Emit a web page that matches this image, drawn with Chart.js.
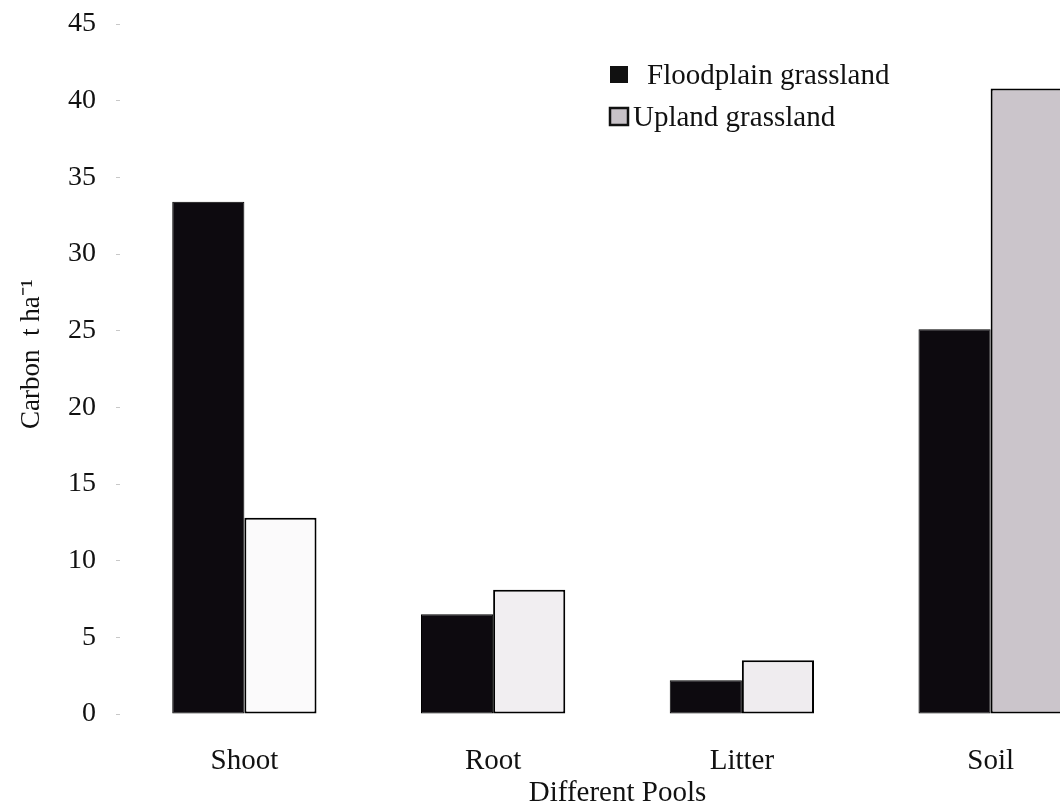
<!DOCTYPE html>
<html>
<head>
<meta charset="utf-8">
<script src="https://cdn.jsdelivr.net/npm/chart.js@4"></script>
<style>
  html, body { margin: 0; padding: 0; background: #fff; overflow: hidden; }
  #wrap { position: relative; width: 1130px; height: 807px; }
</style>
</head>
<body>
<div id="wrap"><canvas id="chart"></canvas></div>
<script>
// valeurs (t C / ha)
const categories = ['Shoot', 'Root', 'Litter', 'Soil'];
const floodplain = [33.4, 6.5, 2.2, 25.1];
const upland = [12.8, 8.1, 3.5, 40.8];
const seriesNames = ['Floodplain grassland', 'Upland grassland'];
const yMin = 0, yMax = 45, yStep = 5;
const yTitle = 'Carbon  t ha\u207B\u00B9';
const xTitle = 'Different Pools';

const FONT = '"Liberation Serif", "Times New Roman", serif';
const ink = '#111';

// légende + titres d'axes dessinés à la main (placement du scan)
const overlay = {
    id: 'overlay',
    afterDraw(chart) {
        const ctx = chart.ctx;
        const area = chart.chartArea;
        ctx.save();
        ctx.font = '29px ' + FONT;
        ctx.fillStyle = ink;
        ctx.textBaseline = 'alphabetic';
        ctx.textAlign = 'left';

        ctx.fillRect(610, 66, 18, 17);
        ctx.fillText(chart.data.datasets[0].label, 647, 84);

        ctx.fillStyle = '#c8c2c8';
        ctx.fillRect(610, 108, 18, 17);
        ctx.strokeStyle = ink;
        ctx.lineWidth = 2.5;
        ctx.strokeRect(610, 108, 18, 17);
        ctx.fillStyle = ink;
        ctx.fillText(chart.data.datasets[1].label, 633, 126);

        // titre axe x, centré sur la zone du graphique
        ctx.textAlign = 'center';
        ctx.textBaseline = 'middle';
        ctx.fillText(xTitle, (area.left + area.right) / 2, 793);

        // titre axe y
        ctx.font = '27px ' + FONT;
        ctx.translate(32, 354);
        ctx.rotate(-Math.PI / 2);
        ctx.fillText(yTitle, 0, 0);
        ctx.restore();
    }
};

new Chart(document.getElementById('chart'), {
    type: 'bar',
    data: {
        labels: categories,
        datasets: [{
            label: seriesNames[0],
            data: floodplain,
            backgroundColor: '#0d0a0f',
            borderColor: '#000',
            borderWidth: 1,
            borderSkipped: false
        }, {
            label: seriesNames[1],
            data: upland,
            backgroundColor: ['#fbfafb', '#f1eef1', '#efecef', '#cbc5cb'],
            borderColor: '#000',
            borderWidth: 2,
            borderSkipped: false
        }]
    },
    options: {
        responsive: true, maintainAspectRatio: false, animation: false,
        layout: { padding: { top: 24, right: 15, left: 0, bottom: 0 } },
        plugins: { legend: { display: false }, tooltip: { enabled: false } },
        datasets: { bar: { categoryPercentage: 0.58, barPercentage: 1 } },
        scales: {
            x: {
                grid: { display: false },
                border: { display: false },
                ticks: { color: ink, font: { family: FONT, size: 29 }, padding: 22 },
                afterFit: s => { s.height = 93; }
            },
            y: {
                min: yMin, max: yMax,
                grid: { drawOnChartArea: false, tickLength: 4, color: '#c8c8c8' },
                border: { display: false },
                ticks: { stepSize: yStep, color: ink, font: { family: FONT, size: 28 }, padding: 20 },
                afterFit: s => { s.width = 120; s.paddingTop = 0; }
            }
        }
    },
    plugins: [overlay]
});
</script>
</body>
</html>
